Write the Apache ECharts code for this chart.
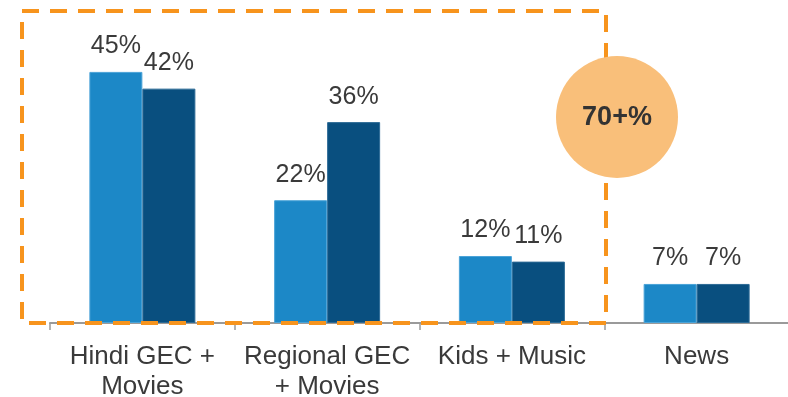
<!DOCTYPE html>
<html>
<head>
<meta charset="utf-8">
<style>
  html, body { margin: 0; padding: 0; background: #fff; }
  #chart { width: 788px; height: 397px; }
</style>
<script src="https://cdn.jsdelivr.net/npm/echarts@6/dist/echarts.min.js"></script>
</head>
<body>
<div id="chart"></div>
<script>
// Genre groups along the x axis
const categories = ['Hindi GEC +\nMovies', 'Regional GEC\n+ Movies', 'Kids + Music', 'News'];
// Share (%) for the two bars in each group
const shareFirst = [45, 22, 12, 7];
const shareSecond = [42, 36, 11, 7];
// Callout text in the circle
const calloutText = '70+%';

const chart = echarts.init(document.getElementById('chart'), null, { renderer: 'canvas' });

const valueLabel = {
  show: true,
  position: 'top',
  distance: 13,
  formatter: p => p.value + '%',
  color: '#3a3a3a',
  fontFamily: 'Liberation Sans, Arial, sans-serif',
  fontSize: 25
};

chart.setOption({
  animation: false,
  grid: {
    left: 50, top: 44, width: 739, height: 279,
    containLabel: false,
    outerBoundsMode: 'none'
  },
  xAxis: {
    type: 'category',
    data: categories,
    axisLine: { lineStyle: { color: '#9a9a9a', width: 2 } },
    axisTick: { show: true, length: 7, lineStyle: { color: '#9a9a9a', width: 1.5 } },
    axisLabel: {
      color: '#3a3a3a',
      fontFamily: 'Liberation Sans, Arial, sans-serif',
      fontSize: 26,
      lineHeight: 30,
      margin: 19,
      interval: 0
    }
  },
  yAxis: { type: 'value', min: 0, max: 50, show: false, splitLine: { show: false } },
  series: [
    {
      type: 'bar',
      data: shareFirst,
      barWidth: 53,
      barGap: '0%',
      itemStyle: { color: '#1c88c7', borderColor: '#4aa3d8', borderWidth: 1 },
      label: valueLabel
    },
    {
      type: 'bar',
      data: shareSecond,
      barWidth: 53,
      barGap: '0%',
      itemStyle: { color: '#094f7f', borderColor: '#2d6b96', borderWidth: 1 },
      label: valueLabel
    }
  ],
  graphic: [
    {
      type: 'rect',
      z: 100,
      shape: { x: 22, y: 11, width: 584, height: 312 },
      style: { fill: 'none', stroke: '#f7941d', lineWidth: 4, lineDash: [17, 11] }
    },
    {
      type: 'circle',
      z: 110,
      shape: { cx: 617, cy: 117, r: 61 },
      style: { fill: '#f9bf7a' }
    },
    {
      type: 'text',
      z: 120,
      x: 617,
      y: 118,
      style: {
        text: calloutText,
        fill: '#333333',
        fontFamily: 'Liberation Sans, Arial, sans-serif',
        fontWeight: 'bold',
        fontSize: 27,
        align: 'center',
        verticalAlign: 'middle'
      }
    }
  ]
});
</script>
</body>
</html>
